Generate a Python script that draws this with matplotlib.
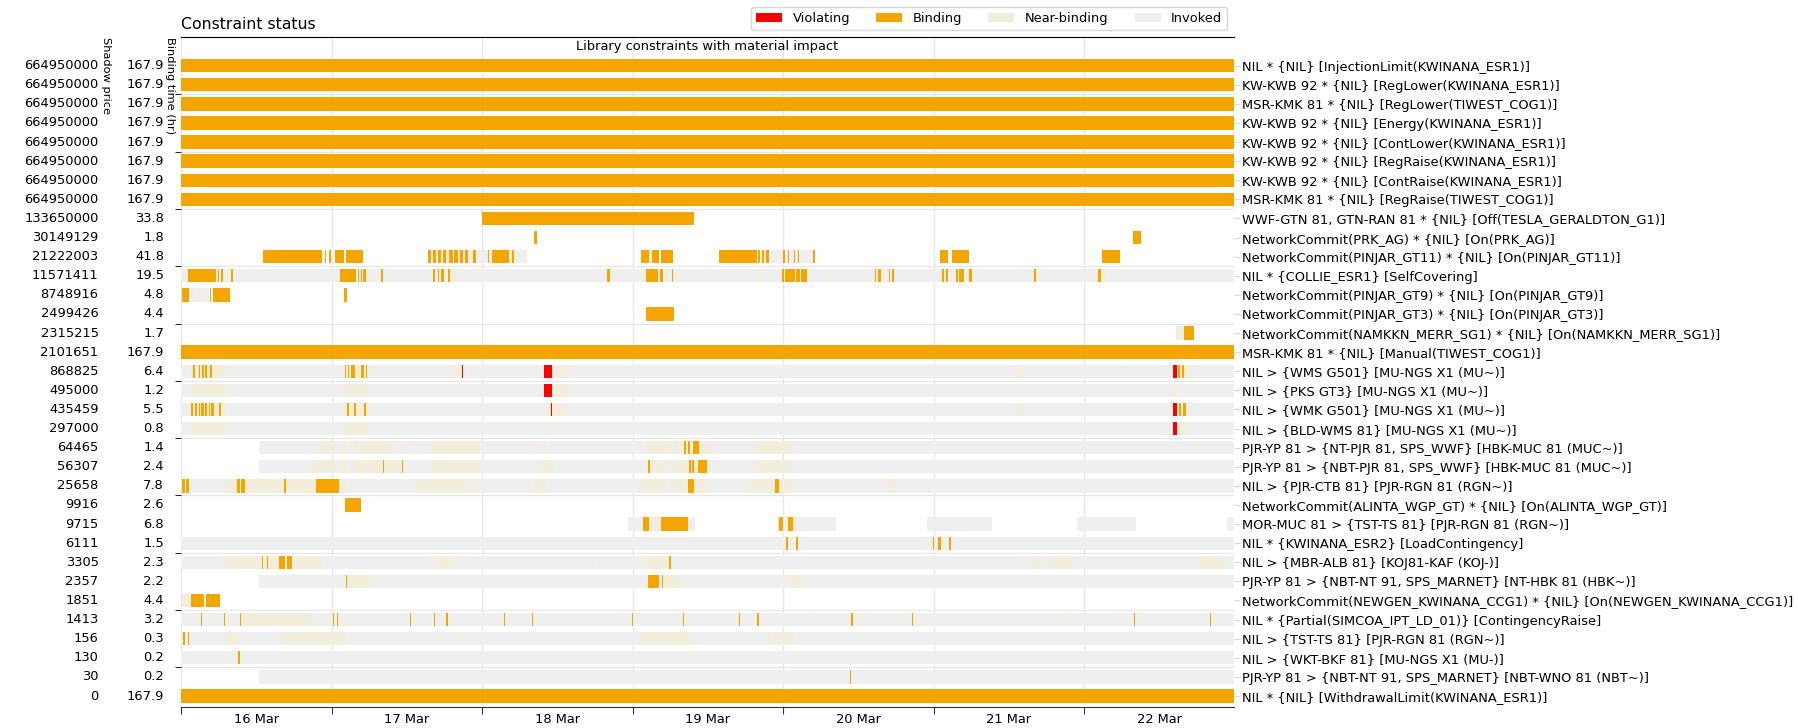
import numpy as np
import matplotlib
matplotlib.use("Agg")
import matplotlib.pyplot as plt
from matplotlib.patches import Patch

# constraint rows, top to bottom
names = [
    "NIL * {NIL} [InjectionLimit(KWINANA_ESR1)]",
    "KW-KWB 92 * {NIL} [RegLower(KWINANA_ESR1)]",
    "MSR-KMK 81 * {NIL} [RegLower(TIWEST_COG1)]",
    "KW-KWB 92 * {NIL} [Energy(KWINANA_ESR1)]",
    "KW-KWB 92 * {NIL} [ContLower(KWINANA_ESR1)]",
    "KW-KWB 92 * {NIL} [RegRaise(KWINANA_ESR1)]",
    "KW-KWB 92 * {NIL} [ContRaise(KWINANA_ESR1)]",
    "MSR-KMK 81 * {NIL} [RegRaise(TIWEST_COG1)]",
    "WWF-GTN 81, GTN-RAN 81 * {NIL} [Off(TESLA_GERALDTON_G1)]",
    "NetworkCommit(PRK_AG) * {NIL} [On(PRK_AG)]",
    "NetworkCommit(PINJAR_GT11) * {NIL} [On(PINJAR_GT11)]",
    "NIL * {COLLIE_ESR1} [SelfCovering]",
    "NetworkCommit(PINJAR_GT9) * {NIL} [On(PINJAR_GT9)]",
    "NetworkCommit(PINJAR_GT3) * {NIL} [On(PINJAR_GT3)]",
    "NetworkCommit(NAMKKN_MERR_SG1) * {NIL} [On(NAMKKN_MERR_SG1)]",
    "MSR-KMK 81 * {NIL} [Manual(TIWEST_COG1)]",
    "NIL > {WMS G501} [MU-NGS X1 (MU~)]",
    "NIL > {PKS GT3} [MU-NGS X1 (MU~)]",
    "NIL > {WMK G501} [MU-NGS X1 (MU~)]",
    "NIL > {BLD-WMS 81} [MU-NGS X1 (MU~)]",
    "PJR-YP 81 > {NT-PJR 81, SPS_WWF} [HBK-MUC 81 (MUC~)]",
    "PJR-YP 81 > {NBT-PJR 81, SPS_WWF} [HBK-MUC 81 (MUC~)]",
    "NIL > {PJR-CTB 81} [PJR-RGN 81 (RGN~)]",
    "NetworkCommit(ALINTA_WGP_GT) * {NIL} [On(ALINTA_WGP_GT)]",
    "MOR-MUC 81 > {TST-TS 81} [PJR-RGN 81 (RGN~)]",
    "NIL * {KWINANA_ESR2} [LoadContingency]",
    "NIL > {MBR-ALB 81} [KOJ81-KAF (KOJ-)]",
    "PJR-YP 81 > {NBT-NT 91, SPS_MARNET} [NT-HBK 81 (HBK~)]",
    "NetworkCommit(NEWGEN_KWINANA_CCG1) * {NIL} [On(NEWGEN_KWINANA_CCG1)]",
    "NIL * {Partial(SIMCOA_IPT_LD_01)} [ContingencyRaise]",
    "NIL > {TST-TS 81} [PJR-RGN 81 (RGN~)]",
    "NIL > {WKT-BKF 81} [MU-NGS X1 (MU-)]",
    "PJR-YP 81 > {NBT-NT 91, SPS_MARNET} [NBT-WNO 81 (NBT~)]",
    "NIL * {NIL} [WithdrawalLimit(KWINANA_ESR1)]",
]

shadow_price = ["664950000"] * 8 + [
    "133650000", "30149129", "21222003", "11571411", "8748916", "2499426",
    "2315215", "2101651", "868825", "495000", "435459", "297000", "64465",
    "56307", "25658", "9916", "9715", "6111", "3305", "2357", "1851", "1413",
    "156", "130", "30", "0",
]

binding_time = ["167.9"] * 8 + [
    "33.8", "1.8", "41.8", "19.5", "4.8", "4.4", "1.7", "167.9", "6.4", "1.2",
    "5.5", "0.8", "1.4", "2.4", "7.8", "2.6", "6.8", "1.5", "2.3", "2.2", "4.4",
    "3.2", "0.3", "0.2", "0.2", "167.9",
]

day_labels = ["16 Mar", "17 Mar", "18 Mar", "19 Mar", "20 Mar", "21 Mar", "22 Mar"]

# spans in hours from 16 Mar 00:00, one list per row
FULL = [(0, 168)]

invoked = [
    [], [], [], [], [], [], [], [], [], [],
    [(39.3, 47.0), (47.0, 49.6), (53.6, 55.1), (85.8, 101.1)],
    FULL,
    [(1.3, 4.5)],
    [], [], [],
    FULL, FULL, FULL, FULL,
    [(12.45, 168)], [(12.45, 168)],
    FULL,
    [],
    [(71.3, 82.0), (95.0, 104.5), (119.0, 129.3), (142.9, 152.3), (166.8, 168)],
    FULL, FULL,
    [(12.45, 168)],
    [],
    FULL, FULL, FULL,
    [(12.45, 168)],
    [],
]

near = [
    [], [], [], [], [], [], [], [], [], [],
    [(52.3, 53.6), (74.6, 75.1), (40.7, 41.0), (44.1, 44.4)],
    [(0.24, 0.9), (29.4, 29.9), (43.1, 43.8), (69.6, 70.0), (77.2, 77.56),
     (91.8, 92.3), (102.9, 103.2), (135.8, 136.0), (146.74, 147.45)],
    [(2.6, 3.0), (3.6, 4.0)],
    [],
    [(158.7, 160.2)],
    [],
    [(1.4, 6.9), (25.9, 29.9), (43.3, 44.7), (59.1, 61.0), (133.2, 133.8),
     (150.4, 150.7), (159.3, 160.5)],
    [(1.7, 6.9), (25.9, 29.7), (59.1, 61.8), (158.15, 158.85)],
    [(1.4, 7.07), (25.9, 29.7), (58.2, 61.0), (133.2, 134.1), (150.4, 150.7),
     (158.85, 160.3)],
    [(1.7, 6.9), (25.9, 29.7), (58.4, 59.3), (150.4, 150.6), (158.85, 160.7)],
    [(21.9, 24.3), (25.5, 26.3), (27.5, 33.06), (34.7, 35.4), (39.9, 47.7),
     (57.4, 58.2), (74.06, 77.8), (78.6, 80.25), (82.6, 84.2), (91.5, 97.2)],
    [(21.06, 24.3), (25.5, 26.3), (27.5, 35.2), (39.9, 47.7), (57.4, 59.4),
     (74.7, 77.8), (78.6, 82.4), (83.8, 84.35), (91.5, 97.2)],
    [(6.97, 8.96), (10.14, 16.2), (16.65, 21.5), (25.1, 26.3), (37.5, 45.5),
     (46.9, 47.6), (56.3, 58.2), (73.3, 77.3), (78.6, 80.8), (81.86, 84.2),
     (90.6, 94.77), (95.4, 97.6), (105.0, 105.2), (112.7, 114.05)],
    [],
    [(74.6, 76.5), (97.6, 98.3)],
    [(97.1, 97.3)],
    [(7.2, 12.7), (13.1, 13.7), (13.9, 15.6), (18.0, 22.4), (40.5, 43.3),
     (66.4, 66.8), (73.6, 77.8), (135.7, 136.3), (136.5, 137.1), (138.5, 141.9),
     (162.3, 166.5)],
    [(26.4, 27.2), (27.3, 30.3), (76.8, 79.4), (97.2, 98.8)],
    [(0.1, 1.6)],
    [(9.6, 20.5), (32.1, 32.3), (46.8, 47.0), (48.2, 48.4), (58.6, 58.85),
     (63.7, 63.9), (68.6, 68.8), (74.9, 75.2), (98.8, 99.0), (113.5, 113.7),
     (128.5, 128.7), (140.0, 140.4), (143.9, 144.1)],
    [(7.0, 8.85), (16.0, 26.3), (44.6, 44.9), (73.3, 81.3), (93.6, 94.0),
     (94.4, 97.8)],
    [],
    [],
    [],
]

binding = [
    FULL, FULL, FULL, FULL, FULL, FULL, FULL, FULL,
    [(48.0, 81.8)],
    [(56.2, 56.7), (151.8, 153.1)],
    [(13.05, 22.5), (22.95, 23.16), (23.5, 23.9), (24.56, 26.0), (26.28, 28.92),
     (39.36, 39.9), (40.17, 40.7), (40.97, 41.5), (41.8, 42.3), (42.75, 43.3),
     (43.5, 44.1), (44.4, 44.9), (45.3, 45.8), (46.5, 47.0), (48.9, 49.15),
     (49.6, 52.3), (52.8, 53.1), (73.3, 74.6), (75.1, 76.2), (76.5, 78.5),
     (85.8, 87.3), (87.4, 91.8), (92.06, 92.3), (92.6, 93.0), (93.25, 93.7),
     (96.0, 96.3), (96.7, 97.0), (97.76, 97.92), (98.3, 98.47), (100.75, 101.1),
     (120.95, 122.35), (122.9, 125.6), (146.9, 149.7)],
    [(1.15, 5.57), (5.84, 6.0), (6.37, 6.59), (7.99, 8.26), (25.37, 27.9),
     (28.17, 28.33), (28.6, 28.76), (29.0, 29.4), (31.9, 32.1), (40.2, 40.4),
     (40.9, 41.1), (41.5, 41.9), (42.5, 42.8), (67.9, 68.4), (74.17, 76.1),
     (76.4, 76.86), (78.2, 78.4), (95.86, 96.1), (96.3, 97.9), (98.03, 98.68),
     (98.85, 99.8), (110.6, 110.85), (111.06, 111.6), (112.96, 113.1),
     (113.4, 113.7), (121.3, 121.6), (121.9, 122.25), (123.55, 123.9),
     (124.1, 124.85), (125.7, 126.1), (136.05, 136.4), (146.2, 146.74)],
    [(0.08, 1.3), (4.55, 4.81), (5.03, 7.77), (25.96, 26.5)],
    [(74.2, 78.6)],
    [(159.9, 161.6)],
    FULL,
    [(1.8, 2.23), (2.77, 3.04), (3.3, 3.58), (3.85, 4.1), (4.54, 4.92),
     (26.07, 26.3), (26.55, 26.8), (27.1, 27.7), (28.6, 29.1), (29.4, 29.7),
     (158.95, 159.3), (159.55, 159.9)],
    [],
    [(1.6, 1.8), (2.23, 2.5), (2.77, 3.04), (3.2, 3.58), (3.85, 4.1), (4.38, 4.65),
     (4.8, 5.2), (6.0, 6.32), (26.4, 26.7), (27.5, 27.8), (29.1, 29.5),
     (159.1, 159.4), (159.7, 160.2)],
    [],
    [(80.25, 80.5), (80.9, 81.2), (81.7, 82.6)],
    [(32.1, 32.3), (35.16, 35.38), (74.5, 74.7), (80.95, 81.3), (81.5, 81.75),
     (82.4, 83.8)],
    [(0.08, 0.6), (0.78, 1.3), (8.96, 9.39), (9.6, 10.14), (16.33, 16.65),
     (21.5, 25.1), (80.8, 81.86), (94.77, 95.4)],
    [(26.07, 28.6)],
    [(73.7, 74.6), (76.5, 80.8), (95.3, 96.0), (96.7, 97.6)],
    [(96.4, 96.7), (98.0, 98.4), (119.9, 120.1), (120.7, 121.1), (122.4, 122.7)],
    [(12.9, 13.1), (13.7, 13.9), (15.6, 16.5), (16.8, 17.6), (77.8, 78.1)],
    [(26.2, 26.4), (74.5, 76.2), (76.6, 76.8)],
    [(1.6, 3.7), (3.95, 6.16)],
    [(3.2, 3.37), (6.86, 7.03), (9.33, 9.5), (24.2, 24.37), (24.8, 24.97),
     (36.45, 36.62), (40.3, 40.47), (42.3, 42.47), (51.4, 51.57), (55.9, 56.07),
     (71.9, 72.07), (80.0, 80.17), (88.96, 89.13), (91.9, 92.07), (106.9, 107.07),
     (116.6, 116.77), (151.9, 152.07), (164.1, 164.27)],
    [(0.35, 0.56), (1.15, 1.3)],
    [(9.1, 9.3)],
    [(106.6, 106.8)],
    FULL,
]

violating = [[] for _ in names]
violating[16] = [(44.8, 44.96), (57.9, 59.1), (158.15, 158.85)]
violating[17] = [(57.8, 59.1)]
violating[18] = [(58.9, 59.2), (158.15, 158.85)]
violating[19] = [(158.15, 158.85)]

colors = {
    "Violating": "#fa0000",
    "Binding": "#f5a500",
    "Near-binding": "#f3eddb",
    "Invoked": "#efefef",
}

fs = 9.4

fig = plt.figure(figsize=(17.98, 7.28), dpi=100)
ax = fig.add_axes([0.1008, 0.0282, 0.5855, 0.921])

bar_h = 0.7
layers = [("Invoked", invoked), ("Near-binding", near),
          ("Binding", binding), ("Violating", violating)]
for label, spans in layers:
    for i, row in enumerate(spans):
        if not row:
            continue
        segs = [(a, b - a) for a, b in row]
        ax.broken_barh(segs, (i - bar_h / 2, bar_h), facecolors=colors[label],
                       edgecolor="none", zorder=2)

n = len(names)
ax.set_xlim(0, 167.9)
ax.set_ylim(n - 0.4, -1.5)

# x axis: day boundaries as major ticks, labels centred at noon
ax.set_xticks(np.arange(0, 168, 24))
ax.set_xticklabels([])
ax.set_xticks(np.arange(12, 168, 24), minor=True)
ax.set_xticklabels(day_labels, minor=True, fontsize=fs)
ax.tick_params(axis="x", which="minor", length=0, pad=4)
ax.tick_params(axis="x", which="major", length=5, color="#333333")

# y axis: names on the right, group separators on the left
ax.set_yticks(np.arange(n))
ax.set_yticklabels(names, fontsize=fs)
ax.set_yticks(np.arange(1.5, n - 1, 3), minor=True)
ax.tick_params(axis="y", which="major", left=False, right=True, labelleft=False,
               labelright=True, color="#d8d8d8", length=4, pad=2)
ax.tick_params(axis="y", which="minor", left=True, right=False, length=4, color="black")

ax.grid(axis="x", which="major", color="#e6e6e6", linewidth=0.9, zorder=0)
ax.grid(axis="y", which="minor", color="#e6e6e6", linewidth=0.9, zorder=0)
ax.set_axisbelow(True)

ax.spines["left"].set_visible(False)
ax.spines["right"].set_visible(False)
ax.spines["bottom"].set_color("#333333")

for i in range(n):
    ax.text(-0.0785, i, shadow_price[i], transform=ax.get_yaxis_transform(),
            ha="right", va="center", fontsize=fs)
    ax.text(-0.0163, i, binding_time[i], transform=ax.get_yaxis_transform(),
            ha="right", va="center", fontsize=fs)

ax.text(-0.0719, 1.0, "Shadow price", transform=ax.transAxes, rotation=-90,
        ha="center", va="top", fontsize=8.2)
ax.text(-0.0106, 1.0, "Binding time (hr)", transform=ax.transAxes, rotation=-90,
        ha="center", va="top", fontsize=8.2)

ax.text(0.5, -1, "Library constraints with material impact",
        transform=ax.get_yaxis_transform(), ha="center", va="center", fontsize=fs)

ax.set_title("Constraint status", loc="left", fontsize=11.3)

handles = [Patch(facecolor=colors[k], label=k) for k in colors]
ax.legend(handles=handles, ncol=4, loc="lower right", bbox_to_anchor=(1, 1),
          fontsize=9.4, frameon=True)

fig.savefig("out.png", dpi=100)
